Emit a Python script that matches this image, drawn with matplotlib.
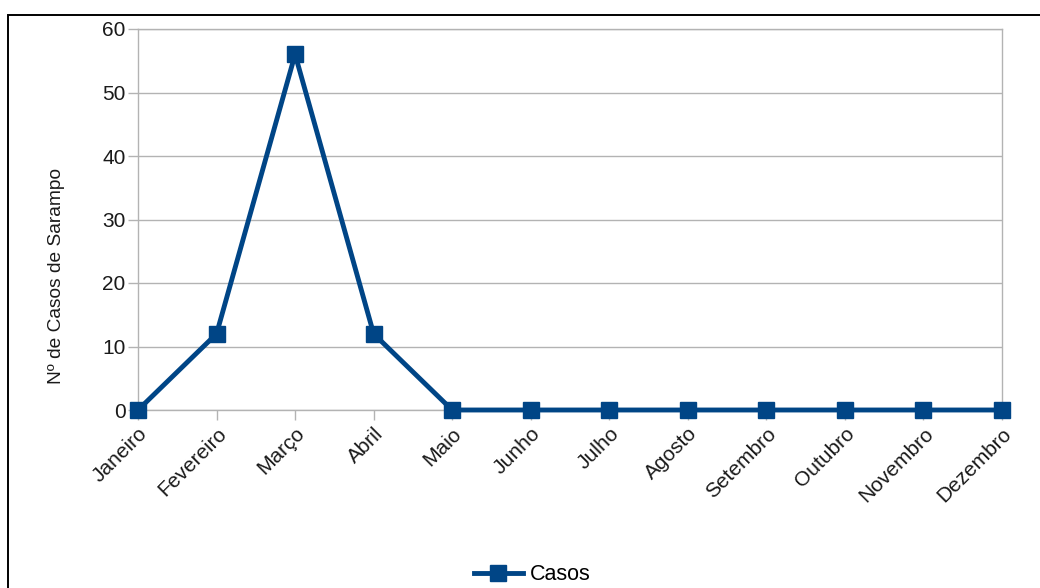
import matplotlib.pyplot as plt
from matplotlib.lines import Line2D
from matplotlib.patches import Rectangle

plt.rcParams['font.family'] = ['Liberation Sans', 'DejaVu Sans']

# Monthly measles cases
months = ['Janeiro', 'Fevereiro', 'Março', 'Abril', 'Maio', 'Junho', 'Julho',
          'Agosto', 'Setembro', 'Outubro', 'Novembro', 'Dezembro']
cases = [0, 12, 56, 12, 0, 0, 0, 0, 0, 0, 0, 0]
y_ticks = [0, 10, 20, 30, 40, 50, 60]

W, H = 1040, 588
fig = plt.figure(figsize=(W / 100, H / 100), dpi=100)

# outer frame, open at right and bottom
fig.patches.append(Rectangle((8 / W, -0.1), 1.2, 1 - 15 / H + 0.1,
                             transform=fig.transFigure, fill=False,
                             edgecolor='black', linewidth=1.4))

left, right, top, bottom = 138 / W, 1002 / W, 1 - 29 / H, 1 - 410 / H
ax = fig.add_axes([left, bottom, right - left, top - bottom])

blue = '#004586'
grid_c = '#b3b3b3'
x = list(range(len(months)))
ax.plot(x, cases, color=blue, linewidth=3.5, marker='s', markersize=11.5,
        markerfacecolor=blue, markeredgecolor=blue, clip_on=False, zorder=3)

ax.set_xlim(0, len(months) - 1)
ax.set_ylim(0, 60)
ax.set_yticks(y_ticks)
ax.set_xticks(x)
ax.set_xticklabels(months, rotation=45, ha='right', rotation_mode='anchor')
ax.yaxis.grid(True, color=grid_c, linewidth=1)
ax.set_axisbelow(True)

for s in ax.spines.values():
    s.set_color(grid_c)
    s.set_linewidth(1)

ax.tick_params(axis='both', colors=grid_c, length=7, width=1, labelcolor='#1a1a1a',
               labelsize=15)
ax.tick_params(axis='x', pad=3)
ax.tick_params(axis='y', pad=2)

# axis title sits lower than the plot centre, next to the frame edge
ax.set_ylabel('Nº de Casos de Sarampo', fontsize=13.8, color='#1a1a1a')
ax.yaxis.set_label_coords(-0.0845, 0.352)

handle = Line2D([], [], color=blue, linewidth=3.5, marker='s', markersize=11.5)
fig.legend([handle], ['Casos'], loc='center', bbox_to_anchor=(532 / W, 1 - 575 / H),
           frameon=False, fontsize=15.5, handlelength=2.3, handletextpad=0.3)

fig.savefig('out.png', dpi=100, facecolor='white')
